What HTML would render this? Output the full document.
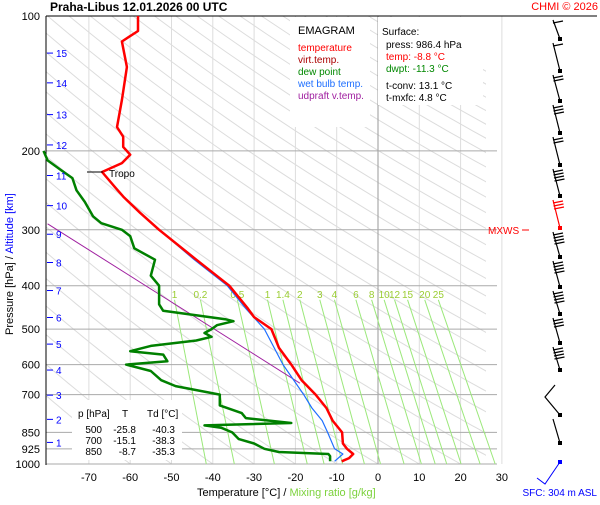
<!DOCTYPE html>
<html><head><meta charset="utf-8"><style>
body{margin:0;background:#fff;}
svg text{font-family:"Liberation Sans",sans-serif;}
</style></head><body>
<svg id="chart" width="600" height="500" viewBox="0 0 600 500" xmlns="http://www.w3.org/2000/svg">
<rect width="600" height="500" fill="#fff"/>
<defs><clipPath id="plotclip"><rect x="46" y="16" width="440" height="448"/></clipPath></defs>
<g id="bg" clip-path="url(#plotclip)"></g>
<g id="grid"></g>
<g id="mix"></g>
<g id="boxes"></g>
<g id="series"></g>
<g id="labels"></g>
<g id="barbs"></g>
</svg>
<script>
const tempP=[986,970,950,925,900,850,800,750,700,650,600,550,500,470,450,400,350,300,275,254,241,223,213,204,196,186,177,154,130,114,108,100];
const tempT=[-8.8,-7,-6,-7.5,-8.5,-8.7,-11,-12.5,-15.1,-18.5,-21,-24,-25.8,-30,-31.5,-36,-44,-53,-57.6,-61.5,-63.7,-66.8,-62,-60,-61.7,-61.7,-63.2,-62,-60.8,-62,-58.1,-58.1];
const dewP=[986,960,950,940,925,900,880,850,830,820,810,790,770,740,700,670,650,620,600,590,570,560,545,530,520,510,500,490,480,475,455,440,420,400,380,350,330,310,300,290,280,260,245,230,220,210,200];
const dewT=[-11.6,-11.6,-12,-24,-27.5,-30,-33.7,-35.3,-38,-42,-21,-32,-33,-38.3,-38.3,-49,-52.5,-55,-61,-51,-52,-60,-55,-44,-40.3,-42,-40.3,-39,-35,-37,-52,-53,-53,-53,-55,-54,-59,-60,-62,-67,-69,-71,-73,-74,-77,-80,-81];
const wetP=[986,950,925,850,800,750,700,600,500,450,400,350,300];
const wetT=[-10.5,-8.5,-10.5,-12.2,-13.5,-16,-18,-23,-27.5,-32,-36.5,-44.5,-53];
const parcelP=[660,291];
const parcelT=[-18.9,-80];
const mixW=[0.1,0.2,0.5,1,1.4,2,3,4,6,8,10,12,15,20,25];
const mixLbl=["1","0.2","0.5","1","1.4","2","3","4","6","8","10","12","15","20","25"];
const pTicks=[100,200,300,400,500,600,700,850,925,1000];
const tTicks=[-70,-60,-50,-40,-30,-20,-10,0,10,20,30];
const kmTicks=[1,2,3,4,5,6,7,8,9,10,11,12,13,14,15];
const kmP=[895,795,702,617,540,471,410,355,307,265,227,194,166,141,121];

const NS="http://www.w3.org/2000/svg";
const X=t=>378+4.13*t;
const Y=p=>464-448*Math.log10(1000/p);
function el(tag,attrs,parent,txt){const e=document.createElementNS(NS,tag);for(const k in attrs)e.setAttribute(k,attrs[k]);if(txt!==undefined)e.textContent=txt;document.getElementById(parent).appendChild(e);return e;}
function path(ps,ts){return ps.map((p,i)=>(i?'L':'M')+X(ts[i]).toFixed(1)+','+Y(p).toFixed(1)).join('');}

for(let th=-60;th<=260;th+=10){let d='';for(let p=1000;p>=100;p-=10){const T=(th+273.15)*Math.pow(p/1000,0.286)-273.15;d+=(p==1000?'M':'L')+X(T).toFixed(1)+','+Y(p).toFixed(1);}
const a=el('path',{d:d,stroke:'#dcdcdc','stroke-width':1,fill:'none'},'bg');

}

tTicks.forEach(t=>{const l=el('line',{x1:X(t),x2:X(t),y1:16,y2:464,stroke:t==0?'#999':'#ddd','stroke-width':1},'grid');


const tx=el('text',{x:X(t),y:481,'font-size':11,'text-anchor':'middle'},'labels',t);

});
pTicks.forEach(p=>{if(p>100){const l=el('line',{x1:46,x2:497,y1:Y(p),y2:Y(p),stroke:'#aaa','stroke-width':1},'grid');

}
const tx=el('text',{x:40,y:Y(p)+4,'font-size':11,'text-anchor':'end'},'labels',p);

});
kmTicks.forEach((k,i)=>{const l=el('line',{x1:47,x2:53,y1:Y(kmP[i]),y2:Y(kmP[i]),stroke:'#00f'},'grid');


const tx=el('text',{x:56,y:Y(kmP[i])+4,'font-size':10,fill:'#00f'},'labels',k);

});

function tdOf(w,p){const e=w*p/(622+w);const l=Math.log(e/6.112);return 243.5*l/(17.67-l);}
mixW.forEach((w,i)=>{const l=el('line',{x1:X(tdOf(w,430)),y1:Y(430),x2:X(tdOf(w,1000)),y2:464,stroke:'#9be87a','stroke-width':1},'mix');


const tx=el('text',{x:X(tdOf(w,430)),y:298,'font-size':10,fill:'#9acd32','text-anchor':'middle'},'mix',mixLbl[i]);

});

el('line',{x1:46,x2:46,y1:16,y2:465,stroke:'#000'},'grid');
el('line',{x1:46,x2:597,y1:16,y2:16,stroke:'#000'},'grid');

el('rect',{x:290,y:17,width:80,height:110,fill:'#fff'},'boxes');
el('rect',{x:378,y:17,width:105,height:88,fill:'#fff'},'boxes');
el('rect',{x:72,y:400,width:110,height:60,fill:'#fff'},'boxes');

const s=[['parcel-line',parcelP,parcelT,'#a020a0',1],['dew-point-line',dewP,dewT,'#008000',2.5],['wet-bulb-line',wetP,wetT,'#1e6fff',1.2],['temperature-line',tempP,tempT,'#ff0000',2.5]];
s.forEach(([n,p,t,c,w])=>{const e=el('path',{d:path(p,t),stroke:c,'stroke-width':w,fill:'none','stroke-linejoin':'round'},'series');

});

const barbY=[39,71,101,133,165,196,228,257,287,314,343,370,415,443];
const barbN=[1,1,2,3,2,4,3,4,4,4,3,4,3,0];
barbY.forEach((y,i)=>{const g=el('g',{},'barbs');


const col=i==6?'#f00':'#000';
const ny=i>0?barbY[i-1]+4:20;
const e=document.createElementNS(NS,'path');let d=`M560,${y}L553,${ny}`;
for(let k=0;k<barbN[i];k++){d+=`M${553+k*0.5},${ny+3+k*3}l10,-2`;}
if(i==12)d=`M560,${y}L545,${y-18}L555,${y-30}`;
e.setAttribute('d',d);e.setAttribute('stroke',col);e.setAttribute('fill','none');e.setAttribute('stroke-width',1.2);g.appendChild(e);
el('rect',{x:558,y:y-2,width:4,height:4,fill:col},'barbs');});
el('path',{d:'M560,462L545,484L537,478',stroke:'#00f',fill:'none','stroke-width':1},'barbs');
el('rect',{x:558,y:460,width:4,height:4,fill:'#00f'},'barbs');
</script>
<svg style="position:absolute;left:0;top:0" width="600" height="500">
<text x="50" y="11" font-size="12" font-weight="bold" font-family="Liberation Sans">Praha-Libus    12.01.2026 00 UTC</text>
<text x="598" y="10" font-size="11" fill="#f00" text-anchor="end" font-family="Liberation Sans">CHMI © 2026</text>
<g font-family="Liberation Sans" font-size="10">
<text x="298" y="34" font-size="11">EMAGRAM</text>
<text x="298" y="51" fill="#f00">temperature</text>
<text x="298" y="63" fill="#a00">virt.temp.</text>
<text x="298" y="75" fill="#080">dew point</text>
<text x="298" y="87" fill="#1e6fff">wet bulb temp.</text>
<text x="298" y="99" fill="#a020a0">udpraft v.temp.</text>
<text x="382" y="35">Surface:</text>
<text x="386" y="48">press: 986.4 hPa</text>
<text x="386" y="60" fill="#f00">temp: -8.8 °C</text>
<text x="386" y="72" fill="#080">dwpt: -11.3 °C</text>
<text x="386" y="89">t-conv: 13.1 °C</text>
<text x="386" y="101">t-mxfc: 4.8 °C</text>
</g>
<g font-family="Liberation Sans" font-size="10">
<text x="78" y="417">p [hPa]</text><text x="122" y="417">T</text><text x="147" y="417">Td [°C]</text>
<text x="102" y="433" text-anchor="end">500</text><text x="136" y="433" text-anchor="end">-25.8</text><text x="175" y="433" text-anchor="end">-40.3</text>
<text x="102" y="444" text-anchor="end">700</text><text x="136" y="444" text-anchor="end">-15.1</text><text x="175" y="444" text-anchor="end">-38.3</text>
<text x="102" y="455" text-anchor="end">850</text><text x="136" y="455" text-anchor="end">-8.7</text><text x="175" y="455" text-anchor="end">-35.3</text>
</g>
<line x1="87" y1="172" x2="103" y2="172" stroke="#000"/>
<text x="109" y="177" font-size="10" font-family="Liberation Sans">Tropo</text>
<text x="488" y="234" font-size="10" fill="#f00" font-family="Liberation Sans">MXWS</text>
<line x1="522" y1="230" x2="529" y2="230" stroke="#f00"/>
<text x="197" y="496" font-size="11" font-family="Liberation Sans">Temperature [°C]  /  <tspan fill="#7cd23c">Mixing ratio [g/kg]</tspan></text>
<text transform="translate(13,335) rotate(-90)" font-size="11" font-family="Liberation Sans">Pressure [hPa]  /  <tspan fill="#00f">Altitude [km]</tspan></text>
<text x="597" y="496" font-size="10" fill="#00f" text-anchor="end" font-family="Liberation Sans">SFC: 304 m ASL</text>
</svg>
</body></html>
